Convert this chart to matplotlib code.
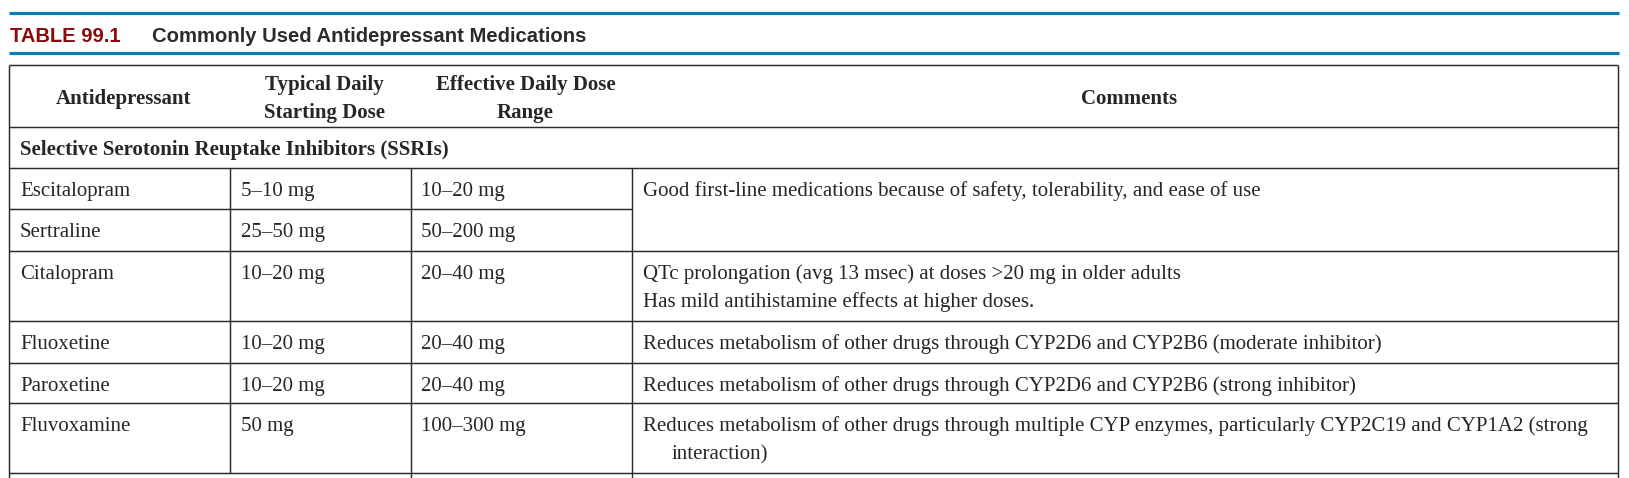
import matplotlib
matplotlib.use("Agg")
import matplotlib.pyplot as plt

# ---------------- data ----------------
table_label = "TABLE 99.1"
table_title = "Commonly Used Antidepressant Medications"
headers = ["Antidepressant", "Typical Daily\nStarting Dose", "Effective Daily Dose\nRange", "Comments"]
section = "Selective Serotonin Reuptake Inhibitors (SSRIs)"
drugs = ["Escitalopram", "Sertraline", "Citalopram", "Fluoxetine", "Paroxetine", "Fluvoxamine"]
start_doses = ["5\u201310 mg", "25\u201350 mg", "10\u201320 mg", "10\u201320 mg", "10\u201320 mg", "50 mg"]
dose_ranges = ["10\u201320 mg", "50\u2013200 mg", "20\u201340 mg", "20\u201340 mg", "20\u201340 mg", "100\u2013300 mg"]
# comments: (first drug row index, number of rows spanned, lines, hanging-indent flag)
comments = [
    (0, 2, ["Good first-line medications because of safety, tolerability, and ease of use"], False),
    (2, 1, ["QTc prolongation (avg 13 msec) at doses >20 mg in older adults",
            "Has mild antihistamine effects at higher doses."], False),
    (3, 1, ["Reduces metabolism of other drugs through CYP2D6 and CYP2B6 (moderate inhibitor)"], False),
    (4, 1, ["Reduces metabolism of other drugs through CYP2D6 and CYP2B6 (strong inhibitor)"], False),
    (5, 1, ["Reduces metabolism of other drugs through multiple CYP enzymes, particularly CYP2C19 and CYP1A2 (strong",
            "interaction)"], True),
]

# ---------------- layout ----------------
W, H = 1629, 478
fig = plt.figure(figsize=(W / 100, H / 100), dpi=100)
ax = fig.add_axes([0, 0, 1, 1])
ax.set_xlim(0, W)
ax.set_ylim(H, 0)
ax.axis("off")

BLUE = "#0a7cae"
RED = "#880a0a"
LINE = "#2a2a2a"
TXT = "#262626"
SERIF = "Liberation Serif"
SANS = "Liberation Sans"
FS = 15.0
LW = 1.05

left, right = 9.5, 1618
cols = [left, 229.7, 410.7, 632, right]
header_top, header_bot = 65, 127
section_bot = 168
row_tops = [168, 209, 251, 321, 363, 403]
row_bot = 473
LINE_SP = 28.5
BASE_OFF = 28

# title band
ax.plot([9, 1619], [12.8, 12.8], color=BLUE, lw=2.3, solid_capstyle="butt")
ax.plot([9, 1619], [53, 53], color=BLUE, lw=2.3, solid_capstyle="butt")
ax.text(10.5, 41.5, table_label, fontfamily=SANS, fontweight="bold", fontsize=14.5,
        color=RED, va="baseline", ha="left")
ax.text(152.5, 41.5, table_title, fontfamily=SANS, fontweight="bold", fontsize=14.6,
        color="#2b2b2b", va="baseline", ha="left")

# table frame
def hline(y, x0=left, x1=right):
    ax.plot([x0, x1], [y, y], color=LINE, lw=LW, solid_capstyle="butt")

def vline(x, y0, y1):
    ax.plot([x, x], [y0, y1], color=LINE, lw=LW, solid_capstyle="butt")

hline(header_top)
hline(header_bot)
hline(section_bot)
for i, t in enumerate(row_tops[1:], start=1):
    # comment cell for Escitalopram spans Sertraline too
    if i == 1:
        hline(t, left, cols[3])
    else:
        hline(t)
hline(row_bot)
vline(left, header_top, H)
vline(right, header_top, H)
vline(cols[1], section_bot, row_bot)
vline(cols[2], section_bot, H)
vline(cols[3], section_bot, H)

# headers (bold, centered)
header_centers = [(cols[i] + cols[i + 1]) / 2 + 4 for i in range(4)]
for hc, h in zip(header_centers, headers):
    lines = h.split("\n")
    if len(lines) == 1:
        ys = [104]
    else:
        ys = [89.5, 118]
    for y, ln in zip(ys, lines):
        ax.text(hc, y, ln, fontfamily=SERIF, fontweight="bold", fontsize=FS,
                color=TXT, ha="center", va="baseline")

# section row
ax.text(20, header_bot + BASE_OFF, section, fontfamily=SERIF, fontweight="bold",
        fontsize=FS, color=TXT, ha="left", va="baseline")

# body rows
pads = [10.5, 11, 10.5, 11]
for i, (d, s, r) in enumerate(zip(drugs, start_doses, dose_ranges)):
    y = row_tops[i] + BASE_OFF
    for c, val in enumerate([d, s, r]):
        ax.text(cols[c] + pads[c], y, val, fontfamily=SERIF, fontsize=FS,
                color=TXT, ha="left", va="baseline")

for start, span, lines, hang in comments:
    y0 = row_tops[start] + BASE_OFF
    for k, ln in enumerate(lines):
        x = cols[3] + pads[3] + (29 if (hang and k > 0) else 0)
        ax.text(x, y0 + k * LINE_SP, ln, fontfamily=SERIF, fontsize=FS,
                color=TXT, ha="left", va="baseline")

fig.savefig("out.png", dpi=100)
